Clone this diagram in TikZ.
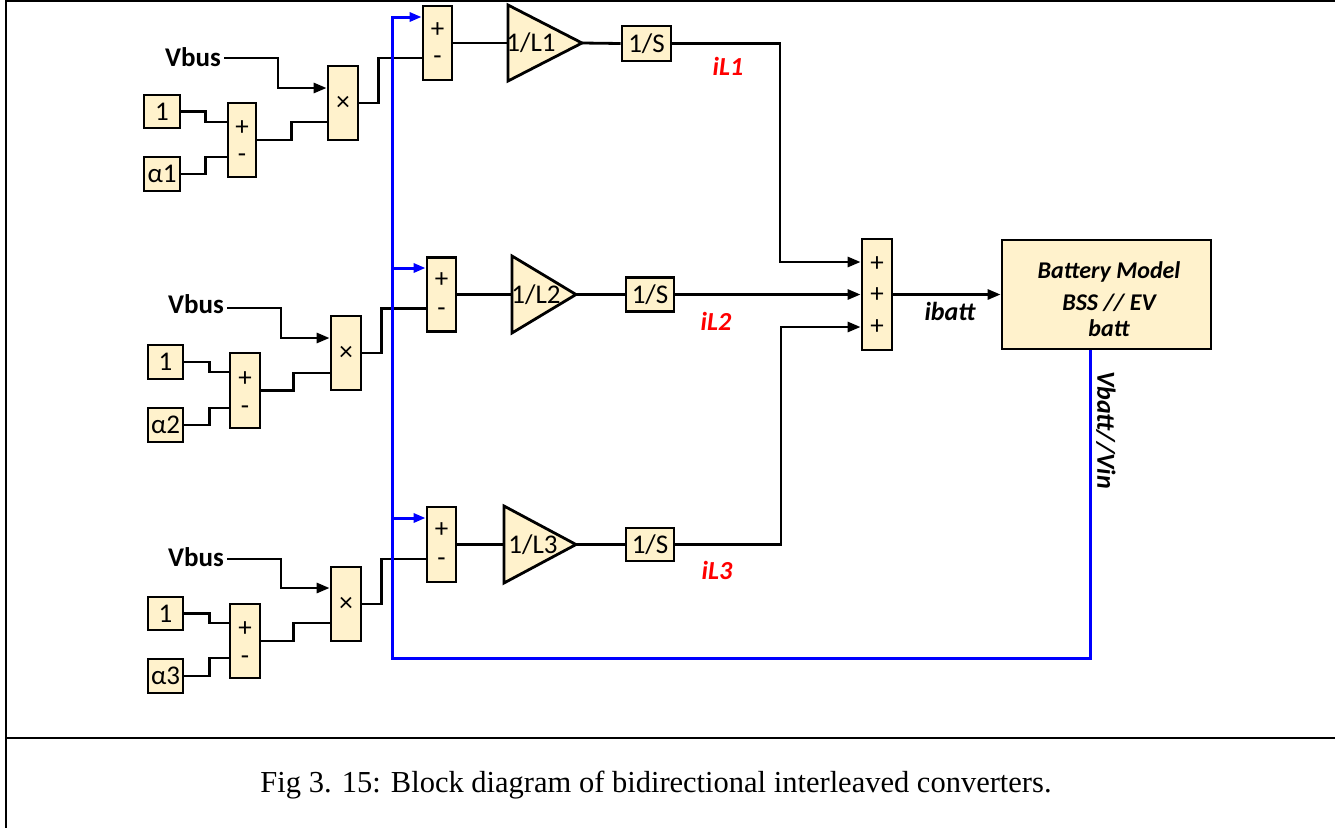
\documentclass[tikz,border=0pt]{standalone}
\usepackage{fontspec}
\setmainfont{Carlito}
\newfontfamily\capfont{Liberation Serif}
\usetikzlibrary{arrows.meta,calc}
\definecolor{blockfill}{HTML}{FFF2CC}
\definecolor{fbblue}{HTML}{0000FF}
\definecolor{lblred}{HTML}{FF0000}
\newcommand\blkfont{\fontsize{27}{29}\selectfont}
\newcommand\sgnfont{\fontsize{27}{29}\selectfont}

\begin{document}
\begin{tikzpicture}[x=1pt,y=-1pt,
  box/.style n args={2}{draw=black, fill=blockfill, line width=2.8pt, inner sep=0pt,
    minimum width=#1pt, minimum height=#2pt, font=\blkfont},
  gainblk/.style={draw=black, fill=blockfill, line width=2.8pt, line join=miter},
  sgn/.style={inner sep=0pt, font=\sgnfont},
  lbl/.style={inner sep=0pt, font=\fontsize{27}{29}\selectfont\bfseries},
  cur/.style={inner sep=0pt, text=lblred, font=\fontsize{26}{28}\selectfont\bfseries\itshape},
  sig/.style={inner sep=0pt, font=\fontsize{26}{28}\selectfont\bfseries\itshape},
  wire/.style={line width=2.8pt, black},
  arr/.style={wire, -{Triangle[length=13pt,width=10pt]}},
  fb/.style={line width=3pt, fbblue},
  fbarr/.style={fb, -{Triangle[length=12pt,width=9pt]}},
  frame/.style={line width=2.6pt, black}
]
\useasboundingbox (0,0) rectangle (1335,828);

% outer frame and caption separator
\draw[frame] (1335,1) -- (6,1) -- (6,828);
\draw[frame] (6,738) -- (1335,738);

% ---------------- branch 1 ----------------
\node[lbl] (vb1) at (193,57) {Vbus};
\node[box={36}{33}] (one1) at (162,111.5) {1};
\node[box={36}{34}] (al1) at (162,174) {α1};
\node[box={28}{74}] (sa1) at (242,140) {};
\node[sgn] at (242,128) {+};
\node[sgn] at (242,158) {-};
\node[box={30}{74}] (m1) at (343,103) {×};
\node[box={29}{74}] (s21) at (437.5,43) {};
\node[sgn] at (437.5,30) {+};
\node[sgn] at (437.5,60) {-};
\draw[gainblk] (508,5) -- (582,43) coordinate (t1o) -- (508,81) -- cycle;
\coordinate (t1i) at (508,43);
\node[inner sep=0pt, font=\blkfont] (g1) at (531,43) {1/L1};
\node[box={49}{35}] (i1) at (646.5,43.5) {1/S};
\node[cur] (il1) at (728,66) {iL1};

% ---------------- branch 2 ----------------
\node[lbl] (vb2) at (196,304) {Vbus};
\node[box={35}{34}] (one2) at (165.5,362) {1};
\node[box={35}{34}] (al2) at (165.5,425) {α2};
\node[box={30}{75}] (sa2) at (245,390.5) {};
\node[sgn] at (245,379) {+};
\node[sgn] at (245,410) {-};
\node[box={30}{74}] (m2) at (346,353) {×};
\node[box={29}{74}] (s22) at (441.5,294.5) {};
\node[sgn] at (441.5,280) {+};
\node[sgn] at (441.5,312) {-};
\draw[gainblk] (512,256) -- (576,294.5) coordinate (t2o) -- (512,333) -- cycle;
\coordinate (t2i) at (512,294.5);
\node[inner sep=0pt, font=\blkfont] (g2) at (536,294.5) {1/L2};
\node[box={48}{34}] (i2) at (650,294.5) {1/S};
\node[cur] (il2) at (716,321) {iL2};

% ---------------- branch 3 ----------------
\node[lbl] (vb3) at (196,557) {Vbus};
\node[box={35}{33}] (one3) at (165.5,613.5) {1};
\node[box={35}{34}] (al3) at (165.5,676) {α3};
\node[box={30}{74}] (sa3) at (245,641) {};
\node[sgn] at (245,629) {+};
\node[sgn] at (245,660) {-};
\node[box={30}{74}] (m3) at (346,604) {×};
\node[box={29}{75}] (s23) at (441.5,544.5) {};
\node[sgn] at (441.5,530) {+};
\node[sgn] at (441.5,562) {-};
\draw[gainblk] (504,506) -- (576,544.5) coordinate (t3o) -- (504,583) -- cycle;
\coordinate (t3i) at (504,544.5);
\node[inner sep=0pt, font=\blkfont] (g3) at (533,544.5) {1/L3};
\node[box={48}{33}] (i3) at (650,544.5) {1/S};
\node[cur] (il3) at (717,570) {iL3};

% ---------------- summation and battery ----------------
\node[box={30}{111}] (sum4) at (877,294.5) {};
\node[sgn] at (877,264) {+};
\node[sgn] at (877,295) {+};
\node[sgn] at (877,327) {+};
\node[box={209}{109}] (batt) at (1106.5,294.5) {};
\node[inner sep=0pt, align=center, font=\fontsize{24}{29}\selectfont\bfseries\itshape]
  (btxt) at (1109,299) {Battery Model\\[3pt]BSS // EV\\[-3pt]batt};
\node[sig] (ib) at (950,311) {ibatt};
\node[sig, rotate=-90] (vb) at (1106,430) {Vbatt//Vin};

% ---------------- connectors, branch 1 ----------------
\draw[wire] (one1.east) -- ++(24,0) |- ($(sa1.west)+(0,-18)$);
\draw[wire] (al1.east) -- ++(24,0) |- ($(sa1.west)+(0,17)$);
\draw[wire] (sa1.east) -- ++(34,0) |- ($(m1.west)+(0,19)$);
\draw[arr] ([shift={(3pt,-1pt)}]vb1.east) -- ++(54,0) |- ($(m1.west)+(0,-15)$);
\draw[wire] (m1.east) -- ++(19,0) |- ($(s21.west)+(0,15)$);
\draw[wire] (s21.east) -- (t1i);
\draw[wire] (t1o) -- (i1.west);
\draw[arr] (i1.east) -- (780,43.5) |- ($(sum4.west)+(0,-32.5)$);

% ---------------- connectors, branch 2 ----------------
\draw[wire] (one2.east) -- ++(25,0) |- ($(sa2.west)+(0,-18.5)$);
\draw[wire] (al2.east) -- ++(25,0) |- ($(sa2.west)+(0,17.5)$);
\draw[wire] (sa2.east) -- ++(32,0) |- ($(m2.west)+(0,20)$);
\draw[arr] ([shift={(3pt,-4pt)}]vb2.east) -- ++(54,0) |- ($(m2.west)+(0,-15)$);
\draw[wire] (m2.east) -- ++(19,0) |- ($(s22.west)+(0,14)$);
\draw[wire] (s22.east) -- (t2i);
\draw[wire] (t2o) -- (i2.west);
\draw[arr] (i2.east) -- (sum4.west);

% ---------------- connectors, branch 3 ----------------
\draw[wire] (one3.east) -- ++(25,0) |- ($(sa3.west)+(0,-18)$);
\draw[wire] (al3.east) -- ++(25,0) |- ($(sa3.west)+(0,17)$);
\draw[wire] (sa3.east) -- ++(32,0) |- ($(m3.west)+(0,19)$);
\draw[arr] ([shift={(3pt,-2pt)}]vb3.east) -- ++(54,0) |- ($(m3.west)+(0,-16)$);
\draw[wire] (m3.east) -- ++(19,0) |- ($(s23.west)+(0,14.5)$);
\draw[wire] (s23.east) -- (t3i);
\draw[wire] (t3o) -- (i3.west);
\draw[arr] (i3.east) -- (781,544.5) |- ($(sum4.west)+(0,32.5)$);

% ---------------- battery current ----------------
\draw[arr] (sum4.east) -- (batt.west);

% ---------------- voltage feedback ----------------
\coordinate (fbc) at (392,658);
\coordinate (s22p) at ($(s22.west)+(0,-26.5)$);
\coordinate (s23p) at ($(s23.west)+(0,-26.5)$);
\draw[fbarr] ([xshift=-16.5pt]batt.south) |- (fbc) |- ($(s21.west)+(0,-26)$);
\draw[fbarr] (fbc |- s22p) -- (s22p);
\draw[fbarr] (fbc |- s23p) -- (s23p);

% ---------------- caption ----------------
\node[inner sep=0pt, font=\capfont\fontsize{30.5}{32}\selectfont] (cap) at (656,785)
  {Fig 3. 15: Block diagram of bidirectional interleaved converters.};
\end{tikzpicture}
\end{document}
